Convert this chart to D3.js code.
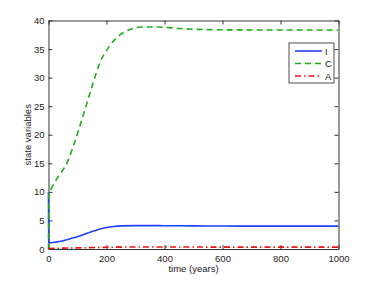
<!DOCTYPE html>
<html>
<head>
<meta charset="utf-8">
<script src="https://cdn.jsdelivr.net/npm/d3@7"></script>
<style>
  body { margin: 0; background: #fff; }
  svg { font-family: "Liberation Sans", Arial, sans-serif; }
  .tick text { font-size: 9.5px; fill: #222; }
</style>
</head>
<body>
<svg id="chart"></svg>
<script>
// values
const timeI = [0, 1, 10, 25, 50, 75, 100, 125, 150, 175, 200, 225, 250, 300, 350, 400, 500, 600, 700, 800, 1000];
const valI  = [10, 1.15, 1.1, 1.2, 1.45, 1.8, 2.15, 2.6, 3.05, 3.45, 3.75, 3.95, 4.05, 4.1, 4.1, 4.08, 4.05, 4.02, 4.0, 4.0, 4.0];
const timeC = [0, 1, 5, 15, 34, 63, 85, 108, 131, 154, 177, 206, 235, 275, 320, 380, 450, 550, 700, 1000];
const valC  = [0, 10, 10.2, 11.1, 12.7, 15, 17.9, 21.5, 25.3, 29.1, 32.6, 35.2, 37, 38.3, 38.85, 38.85, 38.6, 38.4, 38.35, 38.35];
const timeA = [0, 50, 100, 200, 300, 400, 600, 800, 1000];
const valA  = [0.1, 0.15, 0.2, 0.3, 0.35, 0.35, 0.33, 0.32, 0.32];
const xTicks = [0, 200, 400, 600, 800, 1000];
const yTicks = [0, 5, 10, 15, 20, 25, 30, 35, 40];
const seriesNames = ["I", "C", "A"];

const width = 374, height = 281;
const margin = { top: 20.5, right: 35.5, bottom: 32, left: 48.5 };
const innerW = width - margin.left - margin.right;
const innerH = height - margin.top - margin.bottom;

const svg = d3.select("#chart").attr("width", width).attr("height", height);
const g = svg.append("g").attr("transform", `translate(${margin.left},${margin.top})`);

const x = d3.scaleLinear().domain([0, 1000]).range([0, innerW]);
const y = d3.scaleLinear().domain([0, 40]).range([innerH, 0]);

// axes with inward ticks (box style)
const tl = 4;
g.append("g").attr("transform", `translate(0,${innerH})`)
  .call(d3.axisBottom(x).tickValues(xTicks).tickFormat(d3.format("d"))
    .tickSizeInner(-tl).tickSizeOuter(0).tickPadding(6));
g.append("g")
  .call(d3.axisLeft(y).tickValues(yTicks).tickSizeInner(-tl).tickSizeOuter(0).tickPadding(4));
g.append("g")
  .call(d3.axisTop(x).tickValues(xTicks).tickSizeInner(-tl).tickSizeOuter(0).tickFormat(""));
g.append("g").attr("transform", `translate(${innerW},0)`)
  .call(d3.axisRight(y).tickValues(yTicks).tickSizeInner(-tl).tickSizeOuter(0).tickFormat(""));
g.selectAll(".domain").attr("stroke", "#333");
g.selectAll(".tick line").attr("stroke", "#333");

const line = d3.line().x(d => x(d[0])).y(d => y(d[1])).curve(d3.curveMonotoneX);

const series = [
  { name: "I", data: d3.zip(timeI, valI), color: "#1f3fff", dash: null },
  { name: "C", data: d3.zip(timeC, valC), color: "#1aae1a", dash: "6,4" },
  { name: "A", data: d3.zip(timeA, valA), color: "#ee1111", dash: "6,3,1.5,3" }
];

g.append("g").selectAll("path").data(series).join("path")
  .attr("d", d => line(d.data))
  .attr("fill", "none")
  .attr("stroke", d => d.color)
  .attr("stroke-width", 1.6)
  .attr("stroke-dasharray", d => d.dash);

// axis labels
svg.append("text").attr("x", margin.left + innerW / 2).attr("y", 272)
  .attr("text-anchor", "middle").attr("font-size", 9.5).attr("fill", "#222")
  .text("time (years)");
svg.append("text")
  .attr("transform", `translate(31,${margin.top + innerH / 2}) rotate(-90)`)
  .attr("text-anchor", "middle").attr("font-size", 9.5).attr("fill", "#222")
  .text("state variables");

// legend
const lg = svg.append("g").attr("transform", "translate(289,43)");
lg.append("rect").attr("width", 45).attr("height", 40)
  .attr("fill", "#fff").attr("stroke", "#222").attr("stroke-width", 0.8);
const items = lg.selectAll("g.item").data(series).join("g").attr("class", "item")
  .attr("transform", (d, i) => `translate(0,${8 + i * 12.5})`);
items.append("line").attr("x1", 6).attr("x2", 33)
  .attr("stroke", d => d.color).attr("stroke-width", 1.6)
  .attr("stroke-dasharray", d => d.dash);
items.append("text").attr("x", 36).attr("y", 3.5)
  .attr("font-size", 9.5).attr("fill", "#222")
  .text((d, i) => seriesNames[i]);
</script>
</body>
</html>
